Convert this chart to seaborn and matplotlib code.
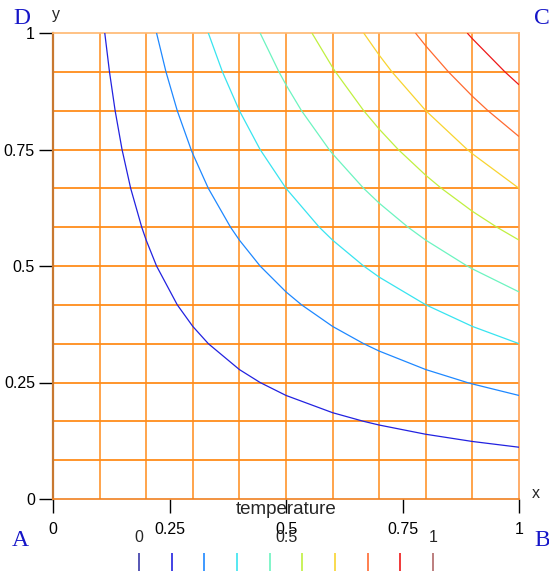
import matplotlib
matplotlib.use("Agg")
import matplotlib.pyplot as plt
import seaborn as sns
import numpy as np

# ---- data ----
x_nodes = [0.0, 0.1, 0.2, 0.3, 0.4, 0.5, 0.6, 0.7, 0.8, 0.9, 1.0]
y_nodes = [0.0, 0.0833, 0.1667, 0.25, 0.3333, 0.4167, 0.5, 0.5833,
           0.6667, 0.75, 0.8333, 0.9167, 1.0]
temperature = [
    [0, 0.0, 0.0, 0.0, 0.0, 0.0, 0.0, 0.0, 0.0, 0.0, 0.0],
    [0, 0.0083, 0.0167, 0.025, 0.0333, 0.0417, 0.05, 0.0583, 0.0667, 0.075, 0.0833],
    [0, 0.0167, 0.0333, 0.05, 0.0667, 0.0833, 0.1, 0.1167, 0.1333, 0.15, 0.1667],
    [0, 0.025, 0.05, 0.075, 0.1, 0.125, 0.15, 0.175, 0.2, 0.225, 0.25],
    [0, 0.0333, 0.0667, 0.1, 0.1333, 0.1667, 0.2, 0.2333, 0.2667, 0.3, 0.3333],
    [0, 0.0417, 0.0833, 0.125, 0.1667, 0.2083, 0.25, 0.2917, 0.3333, 0.375, 0.4167],
    [0, 0.05, 0.1, 0.15, 0.2, 0.25, 0.3, 0.35, 0.4, 0.45, 0.5],
    [0, 0.0583, 0.1167, 0.175, 0.2333, 0.2917, 0.35, 0.4083, 0.4667, 0.525, 0.5833],
    [0, 0.0667, 0.1333, 0.2, 0.2667, 0.3333, 0.4, 0.4667, 0.5333, 0.6, 0.6667],
    [0, 0.075, 0.15, 0.225, 0.3, 0.375, 0.45, 0.525, 0.6, 0.675, 0.75],
    [0, 0.0833, 0.1667, 0.25, 0.3333, 0.4167, 0.5, 0.5833, 0.6667, 0.75, 0.8333],
    [0, 0.0917, 0.1833, 0.275, 0.3667, 0.4583, 0.55, 0.6417, 0.7333, 0.825, 0.9167],
    [0, 0.1, 0.2, 0.3, 0.4, 0.5, 0.6, 0.7, 0.8, 0.9, 1.0],
]
legend_values = [0.0, 0.1111, 0.2222, 0.3333, 0.4444, 0.5556, 0.6667, 0.7778, 0.8889, 1.0]
level_colors = ["#3a3aa8", "#2222e0", "#1e88ff", "#38e4f0", "#6cf4c0",
                "#c0f040", "#f8d430", "#ff6a30", "#ee1818", "#b06868"]
contour_levels = legend_values[1:-1]
contour_colors = level_colors[1:-1]
tick_values = [0, 0.25, 0.5, 0.75, 1]
tick_labels = ["0", "0.25", "0.5", "0.75", "1"]
legend_tick_values = [0.0, 0.5, 1.0]
legend_tick_labels = ["0", "0.5", "1"]
legend_title = "temperature"
corner_labels = ["A", "B", "C", "D"]

# ---- style ----
sns.set_theme(style="white")
plt.rcParams["font.family"] = ["Liberation Sans", "DejaVu Sans"]

W, H = 549, 571
fig = plt.figure(figsize=(W / 100, H / 100), dpi=100)
fig.patch.set_facecolor("white")

x0, x1, y0, y1 = 53, 519, 33, 499
ax = fig.add_axes([x0 / W, 1 - y1 / H, (x1 - x0) / W, (y1 - y0) / H])
ax.set_facecolor("white")

grid_col = "#ff8c1a"
ax.vlines(x_nodes[1:-1], 0, 1, colors=grid_col, lw=1.1, zorder=1)
ax.hlines(y_nodes[1:-1], 0, 1, colors=grid_col, lw=1.3, zorder=1)

ax.contour(x_nodes, y_nodes, np.array(temperature), levels=contour_levels,
           colors=contour_colors, linewidths=0.9, zorder=3)

ax.set_xlim(0, 1)
ax.set_ylim(0, 1)
ax.spines["left"].set_color("#c87830")
ax.spines["left"].set_linewidth(1.6)
ax.spines["bottom"].set_color("#f08020")
ax.spines["bottom"].set_linewidth(1.2)
ax.spines["top"].set_color("#ffb870")
ax.spines["top"].set_linewidth(1.2)
ax.spines["right"].set_color("#ffa050")
ax.spines["right"].set_linewidth(1.2)
for s in ax.spines.values():
    s.set_zorder(2)

ax.set_xticks(tick_values, tick_labels)
ax.set_yticks(tick_values, tick_labels)
ax.tick_params(axis="x", direction="out", length=10, width=1, color="black",
               pad=6.5, labelsize=11.5, labelcolor="black", bottom=True)
ax.tick_params(axis="y", direction="out", length=10, width=1, color="black",
               pad=3, labelsize=11.5, labelcolor="black", left=True)
ax.get_xticklines()[0].set_color("#707070")

fig.text(536 / W, 1 - 494 / H, "x", ha="center", va="center", fontsize=11.5)
fig.text(56 / W, 1 - 15 / H, "y", ha="center", va="center", fontsize=11.5)

# ---- colour legend ----
fig.text(286 / W, 1 - 510 / H, legend_title, ha="center", va="center", fontsize=13.5)
lx0, lx1 = 139, 433
lax = fig.add_axes([lx0 / W, 0, (lx1 - lx0) / W, 18 / H])
lax.set_xlim(0, 1)
lax.set_ylim(0, 1)
lax.axis("off")
lax.vlines(legend_values, 0, 1, colors=level_colors, lw=1.2, clip_on=False)
for v, lab in zip(legend_tick_values, legend_tick_labels):
    lax.text(v, (571 - 538) / 18, lab, ha="center", va="center", fontsize=11.5,
             clip_on=False)

# ---- corner labels ----
corner_pos = [(20, 541), (542, 541), (542, 18), (22, 18)]
for lab, (px, py) in zip(corner_labels, corner_pos):
    fig.text(px / W, 1 - py / H, lab, ha="center", va="center", fontsize=17,
             color="#1515c8", family=["Liberation Serif", "DejaVu Serif"])

fig.savefig("out.png", dpi=100)
